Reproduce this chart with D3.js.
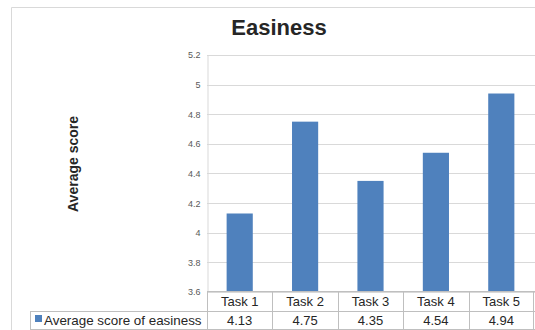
<!DOCTYPE html>
<html><head><meta charset="utf-8">
<script src="https://cdn.jsdelivr.net/npm/d3@7"></script>
<style>body{margin:0;background:#fff}svg{display:block}text{font-family:"Liberation Sans",Arial,sans-serif}</style>
</head><body>
<svg id="c" width="535" height="330"></svg>
<script>
const categories = ["Task 1","Task 2","Task 3","Task 4","Task 5"];
const values = [4.13, 4.75, 4.35, 4.54, 4.94];
const yTicks = [3.6, 3.8, 4, 4.2, 4.4, 4.6, 4.8, 5, 5.2];
const seriesName = "Average score of easiness";
const chartTitle = "Easiness";
const yTitle = "Average score";

const svg = d3.select("#c");
const L = 207, R = 534, T = 55, B = 292;
const x = d3.scaleBand().domain(categories).range([L, R]).paddingInner(0.6).paddingOuter(0.3);
const xc = d3.scaleBand().domain(categories).range([L, R]);
const y = d3.scaleLinear().domain([3.6, 5.2]).range([B, T]);

// outer frame
svg.append("path").attr("d", "M11.5,330 V7.5 H535").attr("fill","none").attr("stroke","#d9d9d9").attr("stroke-width",1);

// title
svg.append("text").attr("x", 279).attr("y", 35).attr("text-anchor","middle")
  .attr("font-size", 22).attr("font-weight","bold").attr("fill","#262626").text(chartTitle);

// gridlines
svg.append("g").selectAll("line").data(yTicks).join("line")
  .attr("x1", L).attr("x2", 535).attr("y1", d => Math.round(y(d))+0.5).attr("y2", d => Math.round(y(d))+0.5)
  .attr("stroke","#d9d9d9");

// y axis
const ya = svg.append("g").attr("transform", `translate(${L+0.5},0)`)
  .call(d3.axisLeft(y).tickValues(yTicks).tickFormat(d3.format("")).tickSize(0).tickPadding(7));
ya.select(".domain").attr("stroke","#d9d9d9");
ya.selectAll("text").attr("font-size", 9).attr("fill","#595959").attr("font-family",'"Liberation Sans",Arial,sans-serif');

// y title
svg.append("text").attr("transform","translate(78,164) rotate(-90)").attr("text-anchor","middle")
  .attr("font-size", 14).attr("font-weight","bold").attr("fill","#262626").text(yTitle);

// bars
svg.append("g").selectAll("rect").data(values).join("rect")
  .attr("x", (d,i) => x(categories[i])).attr("width", x.bandwidth())
  .attr("y", d => y(d)).attr("height", d => B - y(d))
  .attr("fill","#4f81bd");

// data table
const rowTop = 291, rowMid = 311, rowBot = 329, legL = 30;
const tg = svg.append("g").attr("stroke","#bfbfbf").attr("fill","none");
tg.append("line").attr("x1", L).attr("x2", 535).attr("y1", rowTop+0.5).attr("y2", rowTop+0.5);
tg.append("line").attr("x1", legL).attr("x2", 535).attr("y1", rowMid+0.5).attr("y2", rowMid+0.5);
tg.append("line").attr("x1", legL).attr("x2", 535).attr("y1", rowBot+0.5).attr("y2", rowBot+0.5);
tg.append("line").attr("x1", legL+0.5).attr("x2", legL+0.5).attr("y1", rowMid).attr("y2", rowBot);
tg.selectAll(".v").data(categories).join("line")
  .attr("x1", d => Math.round(xc(d))+0.5).attr("x2", d => Math.round(xc(d))+0.5)
  .attr("y1", rowTop).attr("y2", rowBot);
tg.append("line").attr("x1", Math.round(R)-0.5).attr("x2", Math.round(R)-0.5).attr("y1", rowTop).attr("y2", rowBot);

svg.append("g").selectAll("text").data(categories).join("text")
  .attr("x", d => xc(d) + xc.bandwidth()/2).attr("y", 305.5).attr("text-anchor","middle")
  .attr("font-size", 13).attr("fill","#262626").text(d => d);
svg.append("g").selectAll("text").data(values).join("text")
  .attr("x", (d,i) => xc(categories[i]) + xc.bandwidth()/2).attr("y", 324.5).attr("text-anchor","middle")
  .attr("font-size", 13).attr("fill","#262626").text(d => d3.format(".2f")(d));

// legend key
svg.append("rect").attr("x", 35).attr("y", 315).attr("width", 7).attr("height", 7).attr("fill","#4f81bd");
svg.append("text").attr("x", 44).attr("y", 324.5).attr("font-size", 13.4).attr("fill","#262626").text(seriesName);
</script>
</body></html>
